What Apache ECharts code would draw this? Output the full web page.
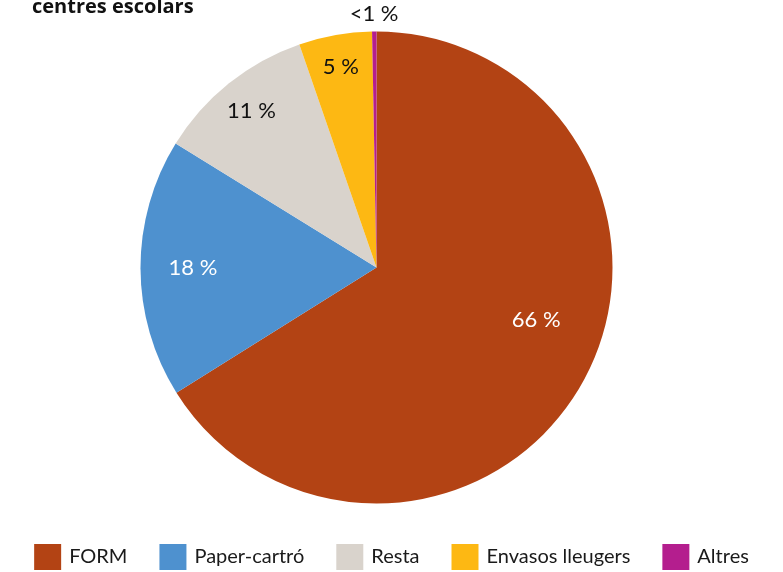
<!DOCTYPE html>
<html>
<head>
<meta charset="utf-8">
<script src="https://cdn.jsdelivr.net/npm/echarts@6/dist/echarts.min.js"></script>
<style>html,body{margin:0;padding:0;background:#fff;}#c{width:783px;height:572px;}</style>
</head>
<body>
<div id="c"></div>
<script>
const categories = ['FORM', 'Paper-cartró', 'Resta', 'Envasos lleugers', 'Altres'];
const values = [66.1, 17.7, 10.9, 5.0, 0.3];
const labels = ['66 %', '18 %', '11 %', '5 %', '<1 %'];
const colors = ['#b34314', '#4e91cf', '#d9d3cc', '#fdb813', '#b41e8e'];
const labelColors = ['#ffffff', '#ffffff', '#111111', '#111111', '#111111'];
// label placement style: radial fraction of the radius and angular shift (deg)
const labelRadiusFrac = [0.70, 0.765, 0.835, 0.85, 1.06];
const labelAngleShift = [-11, 0, 0, 0, 0];

const R = 236, CX = 376.5, CY = 267.5;
const total = values.reduce((a, b) => a + b, 0);
let cum = 0;
const data = categories.map((name, i) => {
  const mid = cum + values[i] / 2;
  cum += values[i];
  const a0 = (90 - mid / total * 360) * Math.PI / 180;
  const a1 = (90 - mid / total * 360 - labelAngleShift[i]) * Math.PI / 180;
  const defX = 0.5 * R * Math.cos(a0), defY = -0.5 * R * Math.sin(a0);
  const tx = labelRadiusFrac[i] * R * Math.cos(a1), ty = -labelRadiusFrac[i] * R * Math.sin(a1);
  return {
    name, value: values[i],
    itemStyle: { color: colors[i] },
    label: { color: labelColors[i], offset: [tx - defX, ty - defY] }
  };
});

const chart = echarts.init(document.getElementById('c'));
chart.setOption({
  animation: false,
  title: {
    text: 'centres escolars', left: 32, top: -3, padding: 0,
    textStyle: { fontFamily: 'Open Sans', fontSize: 20, fontWeight: 'bold', color: '#111' }
  },
  legend: {
    data: categories, top: 539, left: 'center', itemWidth: 27, itemHeight: 26, itemGap: 32,
    icon: 'rect',
    textStyle: { fontFamily: 'Lato', fontSize: 20, color: '#1a1a1a', padding: [0, 0, 0, 3] }
  },
  series: [{
    type: 'pie', center: [CX, CY], radius: R, startAngle: 90, clockwise: true,
    silent: true,
    label: {
      show: true, position: 'inside', fontFamily: 'Lato', fontSize: 22,
      formatter: p => labels[p.dataIndex]
    },
    labelLine: { show: false },
    itemStyle: { borderWidth: 0 },
    data
  }]
});
</script>
</body>
</html>
